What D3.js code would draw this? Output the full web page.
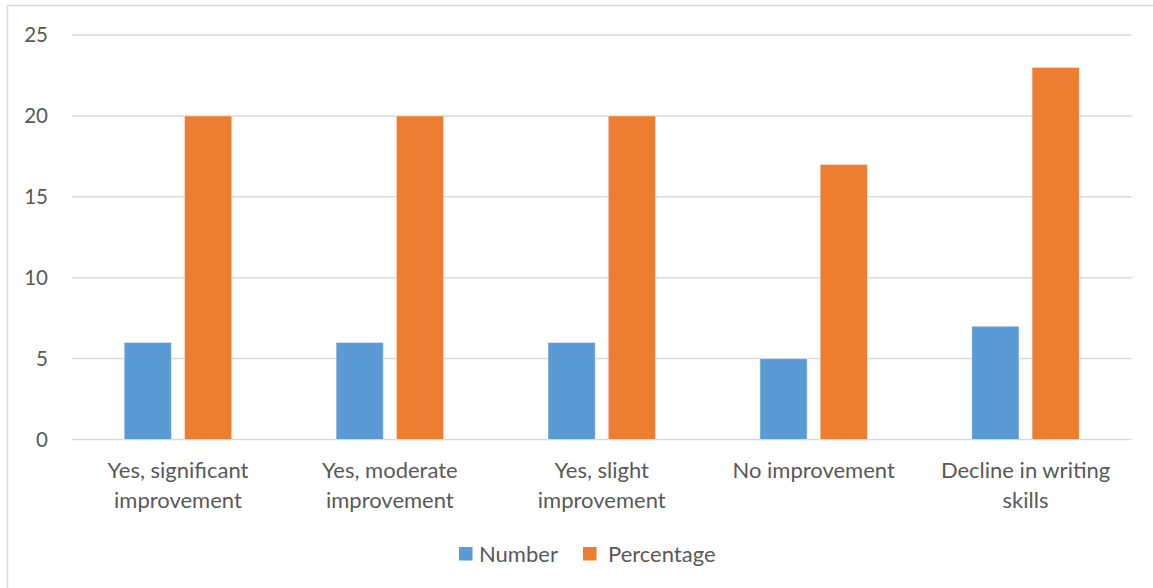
<!DOCTYPE html>
<html>
<head>
<meta charset="utf-8">
<script src="https://cdn.jsdelivr.net/npm/d3@7/dist/d3.min.js"></script>
<style>
  html, body { margin: 0; padding: 0; background: #fff; }
  svg { display: block; }
  text { font-family: Lato, "Open Sans", "Liberation Sans", sans-serif; fill: #595959; }
</style>
</head>
<body>
<svg id="chart" width="1153" height="588"></svg>
<script>
// Survey responses: perceived change in writing skills
const categories = [
  ["Yes, significant", "improvement"],
  ["Yes, moderate", "improvement"],
  ["Yes, slight", "improvement"],
  ["No improvement"],
  ["Decline in writing", "skills"]
];
const seriesNames = ["Number", "Percentage"];
const numberValues = [6, 6, 6, 5, 7];
const percentageValues = [20, 20, 20, 17, 23];
const yTicks = [0, 5, 10, 15, 20, 25];
const colors = ["#5b9bd5", "#ed7d31"];

const svg = d3.select("#chart");
const W = 1153, H = 588;
const plot = { left: 72, right: 1131.5, top: 35, bottom: 439.5 };

// outer frame
svg.append("rect")
  .attr("x", 7.5).attr("y", 5.5)
  .attr("width", W - 7.5 + 5).attr("height", H - 5.5 + 5)
  .attr("fill", "none").attr("stroke", "#d9d9d9").attr("stroke-width", 1.5);

const x0 = d3.scaleBand()
  .domain(d3.range(categories.length))
  .range([plot.left, plot.right])
  .paddingInner(0).paddingOuter(0);

const barW = x0.bandwidth() * 0.2232;
const barGap = x0.bandwidth() * 0.0613;

const y = d3.scaleLinear().domain([0, 25]).range([plot.bottom, plot.top]);

// gridlines
svg.append("g")
  .selectAll("line")
  .data(yTicks)
  .join("line")
  .attr("x1", plot.left).attr("x2", plot.right)
  .attr("y1", d => y(d)).attr("y2", d => y(d))
  .attr("stroke", "#d9d9d9").attr("stroke-width", 1.5);

// y tick labels
svg.append("g")
  .selectAll("text")
  .data(yTicks)
  .join("text")
  .attr("x", 48).attr("y", d => y(d))
  .attr("dy", "0.36em")
  .attr("text-anchor", "end")
  .attr("font-size", 20.5)
  .text(d => d);

// bars
const seriesData = [numberValues, percentageValues];
seriesData.forEach((vals, s) => {
  svg.append("g")
    .selectAll("rect")
    .data(vals)
    .join("rect")
    .attr("x", (d, i) => {
      const c = x0(i) + x0.bandwidth() / 2;
      const groupW = barW * 2 + barGap;
      return c - groupW / 2 + s * (barW + barGap);
    })
    .attr("y", d => y(d))
    .attr("width", barW)
    .attr("height", d => y(0) - y(d))
    .attr("fill", colors[s])
    .attr("stroke", "#ffffff").attr("stroke-opacity", 0.5).attr("stroke-width", 1);
});

// category labels
const catG = svg.append("g");
categories.forEach((lines, i) => {
  const t = catG.append("text")
    .attr("x", x0(i) + x0.bandwidth() / 2)
    .attr("y", 478)
    .attr("text-anchor", "middle")
    .attr("font-size", 22);
  lines.forEach((ln, j) => {
    t.append("tspan")
      .attr("x", x0(i) + x0.bandwidth() / 2)
      .attr("dy", j === 0 ? 0 : 29.5)
      .text(ln);
  });
});

// legend
const legend = svg.append("g");
const legendItems = [
  { name: seriesNames[0], sx: 459, tx: 479 },
  { name: seriesNames[1], sx: 583, tx: 608 }
];
legendItems.forEach((it, i) => {
  legend.append("rect")
    .attr("x", it.sx).attr("y", 547)
    .attr("width", 13.5).attr("height", 13.5)
    .attr("fill", colors[i]);
  legend.append("text")
    .attr("x", it.tx).attr("y", 554)
    .attr("dy", "0.36em")
    .attr("font-size", 22)
    .text(it.name);
});
</script>
</body>
</html>
